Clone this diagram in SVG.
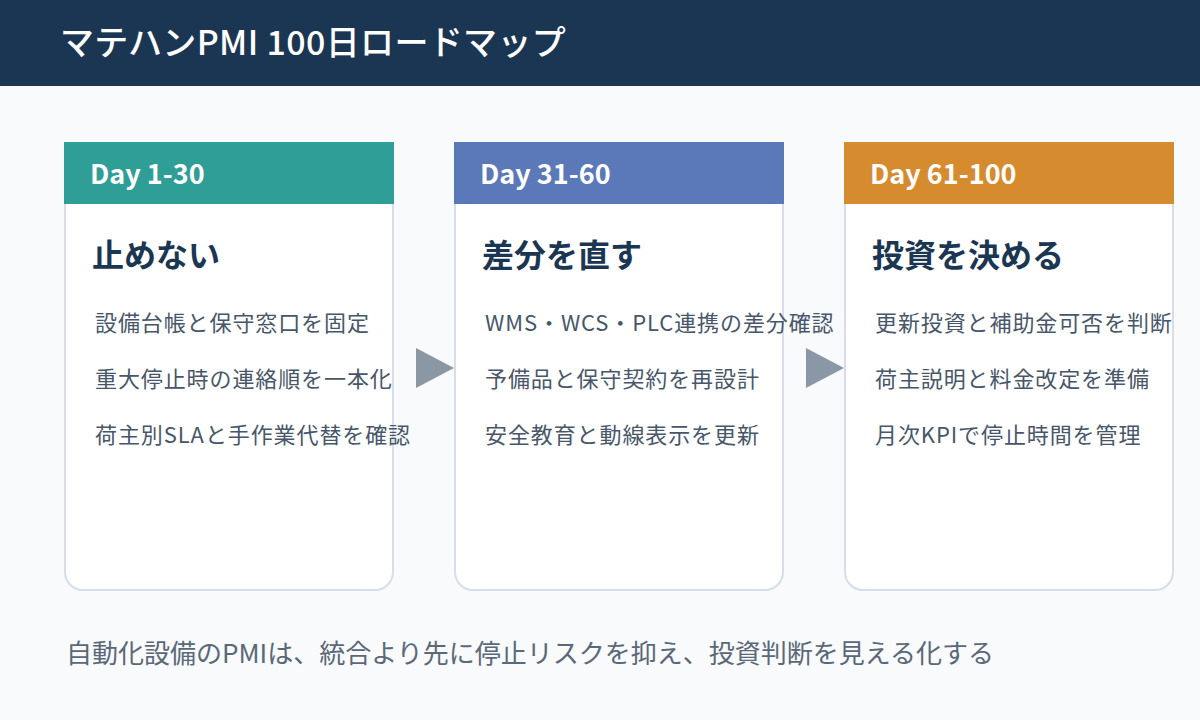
<svg xmlns="http://www.w3.org/2000/svg" width="1200" height="720" viewBox="0 0 1200 720">
<style>
text{font-family:"Noto Sans CJK JP","Noto Sans",sans-serif}
.title{font-size:34px;font-weight:500;fill:#ffffff;letter-spacing:0.35px}
.day{font-size:27px;font-weight:700;fill:#ffffff}
.head{font-size:32px;font-weight:700;fill:#1b3652}
.item{font-size:22px;fill:#475669;letter-spacing:0.9px}
.foot{font-size:26px;fill:#5a6878}
.card{fill:#ffffff;stroke:#d5deea;stroke-width:2}
.arrow{fill:#8a97a4}
</style>
<rect x="0" y="0" width="1200" height="720" fill="#f8fafc"/>
<rect x="0" y="0" width="1200" height="86" fill="#1b3652"/>
<text class="title" x="60" y="55">マテハンPMI 100日ロードマップ</text>

<g id="card1">
<path class="card" d="M65,143 H393 V572 A18,18 0 0 1 375,590 H83 A18,18 0 0 1 65,572 Z"/>
<rect x="64" y="142" width="330" height="62" fill="#2f9e96"/>
<text class="day" x="90" y="184">Day 1-30</text>
<text class="head" x="92" y="267">止めない</text>
<text class="item" x="95" y="331">設備台帳と保守窓口を固定</text>
<text class="item" x="95" y="387">重大停止時の連絡順を一本化</text>
<text class="item" x="95" y="443">荷主別SLAと手作業代替を確認</text>
</g>

<g id="card2">
<path class="card" d="M455,143 H783 V572 A18,18 0 0 1 765,590 H473 A18,18 0 0 1 455,572 Z"/>
<rect x="454" y="142" width="330" height="62" fill="#5b78b8"/>
<text class="day" x="480" y="184">Day 31-60</text>
<text class="head" x="482" y="267">差分を直す</text>
<text class="item" x="485" y="331">WMS・WCS・PLC連携の差分確認</text>
<text class="item" x="485" y="387">予備品と保守契約を再設計</text>
<text class="item" x="485" y="443">安全教育と動線表示を更新</text>
</g>

<g id="card3">
<path class="card" d="M845,143 H1173 V572 A18,18 0 0 1 1155,590 H863 A18,18 0 0 1 845,572 Z"/>
<rect x="844" y="142" width="330" height="62" fill="#d68b2e"/>
<text class="day" x="870" y="184">Day 61-100</text>
<text class="head" x="872" y="267">投資を決める</text>
<text class="item" x="875" y="331">更新投資と補助金可否を判断</text>
<text class="item" x="875" y="387">荷主説明と料金改定を準備</text>
<text class="item" x="875" y="443">月次KPIで停止時間を管理</text>
</g>

<g id="connectors">
<polygon class="arrow" points="416,348 454,368 416,388"/>
<polygon class="arrow" points="806,348 844,368 806,388"/>
</g>

<text class="foot" x="66" y="663">自動化設備のPMIは、統合より先に停止リスクを抑え、投資判断を見える化する</text>
</svg>
